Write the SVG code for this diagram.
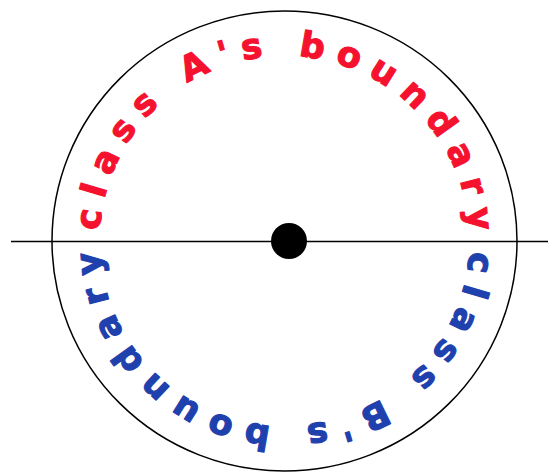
<svg xmlns="http://www.w3.org/2000/svg" width="548" height="472" viewBox="0 0 548 472">
  <style>
    .lbl { font-family: "DejaVu Sans", "Liberation Sans", sans-serif; font-weight: bold; font-size: 35px; letter-spacing: 11.3px; stroke-width: 1.2; stroke-linejoin: round; }
    .a { fill: #f5122f; stroke: #f5122f; }
    .b { fill: #1f41ad; stroke: #1f41ad; }
    .edge { stroke: #000; stroke-width: 1.5; fill: none; }
  </style>
  <defs>
    <path id="arcTop" d="M 99.5 241 A 185 185 0 0 1 469.5 241"/>
    <path id="arcBottom" d="M 469.5 241 A 185 185 0 0 1 99.5 241"/>
  </defs>
  <g id="boundary">
    <ellipse cx="284.5" cy="241" rx="232.5" ry="230" fill="none" stroke="#000" stroke-width="1.5"/>
  </g>
  <g id="connectors">
    <line class="edge" x1="11" y1="241.5" x2="548" y2="241.5"/>
  </g>
  <g id="classA">
    <text class="lbl a"><textPath href="#arcTop" startOffset="10">class A's boundary</textPath></text>
  </g>
  <g id="classB">
    <text class="lbl b"><textPath href="#arcBottom" startOffset="10">class B's boundary</textPath></text>
  </g>
  <g id="point">
    <circle cx="289" cy="241" r="18" fill="#000"/>
  </g>
</svg>
